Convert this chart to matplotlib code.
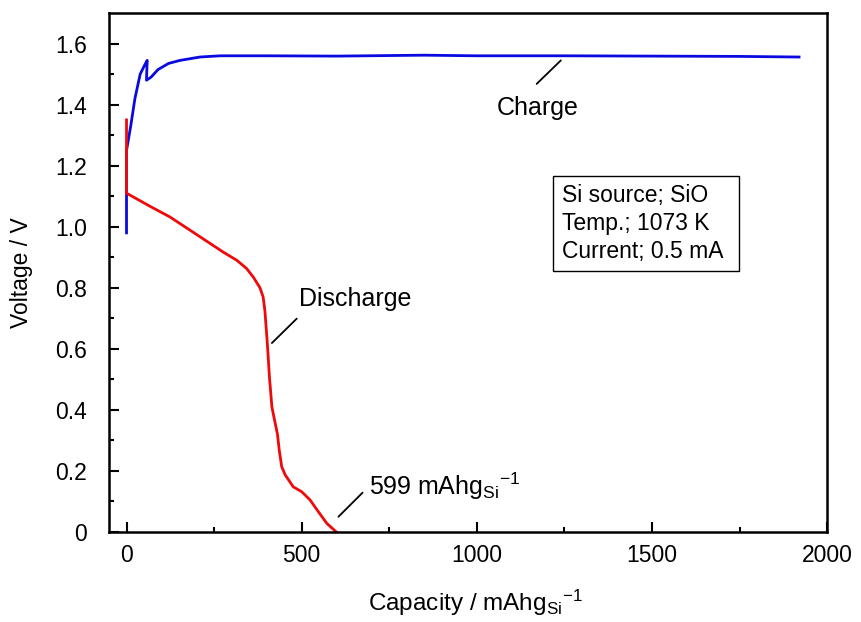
import matplotlib
matplotlib.use('Agg')
import matplotlib.pyplot as plt
from matplotlib.patches import Rectangle

plt.rcParams['font.family'] = ['Liberation Sans', 'DejaVu Sans']
plt.rcParams['mathtext.fontset'] = 'custom'
plt.rcParams['mathtext.rm'] = 'Liberation Sans'
plt.rcParams['mathtext.it'] = 'Liberation Sans'
plt.rcParams['mathtext.default'] = 'regular'
plt.rcParams['axes.unicode_minus'] = False

# charge curve (capacity mAh/g, voltage V)
charge_cap = [0, 0, 12, 24, 39, 52, 59, 57, 70, 90, 120, 153, 210, 267,
              400, 600, 850, 1000, 1250, 1500, 1750, 1920]
charge_v = [0.98, 1.25, 1.33, 1.42, 1.50, 1.53, 1.545, 1.48, 1.49, 1.515, 1.535, 1.545,
            1.556, 1.560, 1.560, 1.559, 1.562, 1.560, 1.560, 1.559, 1.558, 1.556]

# discharge curve
dis_cap = [0, 0, 67, 124, 210, 276, 315, 343, 362, 381, 390, 395, 402, 408, 415,
           422, 431, 436, 443, 453, 476, 500, 524, 548, 572, 599]
dis_v = [1.35, 1.11, 1.067, 1.032, 0.967, 0.917, 0.89, 0.863, 0.835, 0.80, 0.77, 0.726,
         0.618, 0.508, 0.41, 0.37, 0.32, 0.268, 0.214, 0.187, 0.148, 0.132, 0.105,
         0.066, 0.028, 0.0]

info_lines = ['Si source; SiO', 'Temp.; 1073 K', 'Current; 0.5 mA']

fig = plt.figure(figsize=(8.61, 6.22), dpi=100)
ax = fig.add_axes([0.1266, 0.1447, 0.834, 0.8343])

ax.plot(charge_cap, charge_v, color='#0a0ae0', lw=2.0)
ax.plot(dis_cap, dis_v, color='#ee0a0a', lw=2.0)

ax.set_xlim(-50, 2000)
ax.set_ylim(0, 1.7)
ax.set_xticks([0, 500, 1000, 1500, 2000])
ax.set_xticks([250, 750, 1250, 1750], minor=True)
ax.set_yticks([0, 0.2, 0.4, 0.6, 0.8, 1.0, 1.2, 1.4, 1.6])
ax.set_yticklabels(['0', '0.2', '0.4', '0.6', '0.8', '1.0', '1.2', '1.4', '1.6'])
ax.set_yticks([0.1, 0.3, 0.5, 0.7, 0.9, 1.1, 1.3, 1.5], minor=True)

for s in ax.spines.values():
    s.set_linewidth(1.8)

ax.tick_params(which='both', direction='in', width=1.5, labelsize=16.5)
ax.tick_params(which='major', length=7)
ax.tick_params(which='minor', length=3.5)
ax.tick_params(axis='y', which='major', pad=16)
ax.tick_params(axis='x', which='major', pad=9)

ax.set_ylabel('Voltage / V', fontsize=16.5)
ax.yaxis.set_label_coords(-0.106, 0.5)
ax.set_xlabel('Capacity / mAhg$_{Si}$$^{-1}$', fontsize=17.5, va='top')
ax.xaxis.set_label_coords(0.51, -0.107)

# leader lines and labels
ax.annotate('', xy=(1240, 1.545), xytext=(1171, 1.468),
            arrowprops=dict(arrowstyle='-', color='black', lw=1.3, shrinkA=0, shrinkB=0))
ax.text(1058, 1.365, 'Charge', fontsize=18, ha='left', va='baseline')

ax.annotate('', xy=(486, 0.699), xytext=(415, 0.619),
            arrowprops=dict(arrowstyle='-', color='black', lw=1.3, shrinkA=0, shrinkB=0))
ax.text(493, 0.740, 'Discharge', fontsize=18, ha='left', va='baseline')

ax.annotate('', xy=(674, 0.129), xytext=(605, 0.050),
            arrowprops=dict(arrowstyle='-', color='black', lw=1.3, shrinkA=0, shrinkB=0))
ax.text(692, 0.121, '599 mAhg$_{Si}$$^{-1}$', fontsize=18, ha='left', va='baseline')

# condition box
ax.add_patch(Rectangle((0.618, 0.503), 0.259, 0.183, transform=ax.transAxes,
                       fill=False, edgecolor='black', lw=1.0))
for i, line in enumerate(info_lines):
    ax.text(0.631, 0.649 - i * 0.0545, line, transform=ax.transAxes,
            fontsize=16.5, ha='left', va='center')

fig.savefig('out.png', dpi=100)
